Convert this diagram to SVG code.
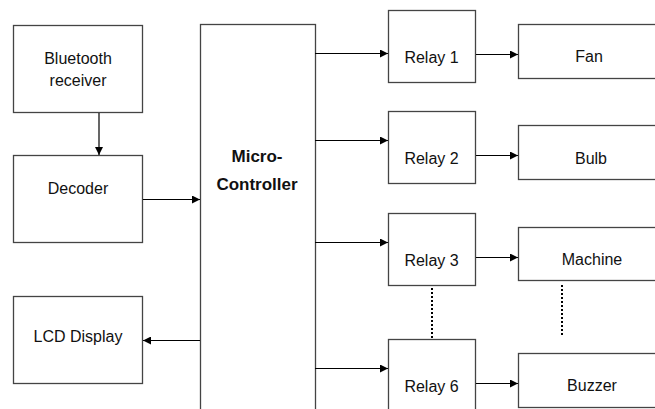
<svg xmlns="http://www.w3.org/2000/svg" width="655" height="409" viewBox="0 0 655 409">
<defs>
<marker id="ah" viewBox="0 0 10 10" refX="10" refY="5" markerWidth="9" markerHeight="8" markerUnits="userSpaceOnUse" orient="auto"><path d="M0,0 L10,5 L0,10 Z" fill="#000"/></marker>
<style>
.box{fill:#fff;stroke:#444;stroke-width:1.3}
.t{font-family:"Liberation Sans",Arial,sans-serif;font-size:16px;fill:#111;text-anchor:middle}
.b{font-family:"Liberation Sans",Arial,sans-serif;font-size:17px;font-weight:bold;fill:#111;text-anchor:middle}
.c{fill:none;stroke:#000;stroke-width:1.2;marker-end:url(#ah)}
.d{fill:none;stroke:#000;stroke-width:2;stroke-dasharray:2 2}
</style>
</defs>
<rect width="655" height="409" fill="#fff"/>
<g id="bluetooth"><rect class="box" x="13.5" y="25.5" width="129" height="87"/><text class="t" x="78" y="64">Bluetooth</text><text class="t" x="78" y="86">receiver</text></g>
<g id="decoder"><rect class="box" x="13.5" y="155.5" width="129" height="87"/><text class="t" x="78" y="194">Decoder</text></g>
<g id="lcd"><rect class="box" x="13.5" y="296.5" width="129" height="87"/><text class="t" x="78" y="342">LCD Display</text></g>
<g id="mc"><rect class="box" x="200.5" y="24.5" width="115" height="400"/><text class="b" x="257" y="162">Micro-</text><text class="b" x="257" y="190">Controller</text></g>
<g id="relay1"><rect class="box" x="388.5" y="10.5" width="87" height="72"/><text class="t" x="431.5" y="63">Relay 1</text></g>
<g id="relay2"><rect class="box" x="388.5" y="111.5" width="87" height="72"/><text class="t" x="431.5" y="164">Relay 2</text></g>
<g id="relay3"><rect class="box" x="388.5" y="213.5" width="87" height="72"/><text class="t" x="431.5" y="266">Relay 3</text></g>
<g id="relay6"><rect class="box" x="388.5" y="339.5" width="87" height="80"/><text class="t" x="431.5" y="392">Relay 6</text></g>
<g id="fan"><rect class="box" x="518.5" y="24.5" width="145" height="54"/><text class="t" x="589" y="62">Fan</text></g>
<g id="bulb"><rect class="box" x="518.5" y="125.5" width="145" height="54"/><text class="t" x="591" y="164">Bulb</text></g>
<g id="machine"><rect class="box" x="518.5" y="227.5" width="145" height="53"/><text class="t" x="592" y="265">Machine</text></g>
<g id="buzzer"><rect class="box" x="518.5" y="353.5" width="145" height="54"/><text class="t" x="592" y="391">Buzzer</text></g>
<g id="connectors">
<path class="c" d="M99,113 V155"/>
<path class="c" d="M143,199.5 H200"/>
<path class="c" d="M200,340.5 H143"/>
<path class="c" d="M315,53.5 H388"/>
<path class="c" d="M315,140.5 H388"/>
<path class="c" d="M315,242.5 H388"/>
<path class="c" d="M315,368.5 H388"/>
<path class="c" d="M476,54.5 H518"/>
<path class="c" d="M476,155.5 H518"/>
<path class="c" d="M476,257.5 H518"/>
<path class="c" d="M476,383.5 H518"/>
<path class="d" d="M432,288 V339"/>
<path class="d" d="M562,285 V336"/>
</g>
</svg>
